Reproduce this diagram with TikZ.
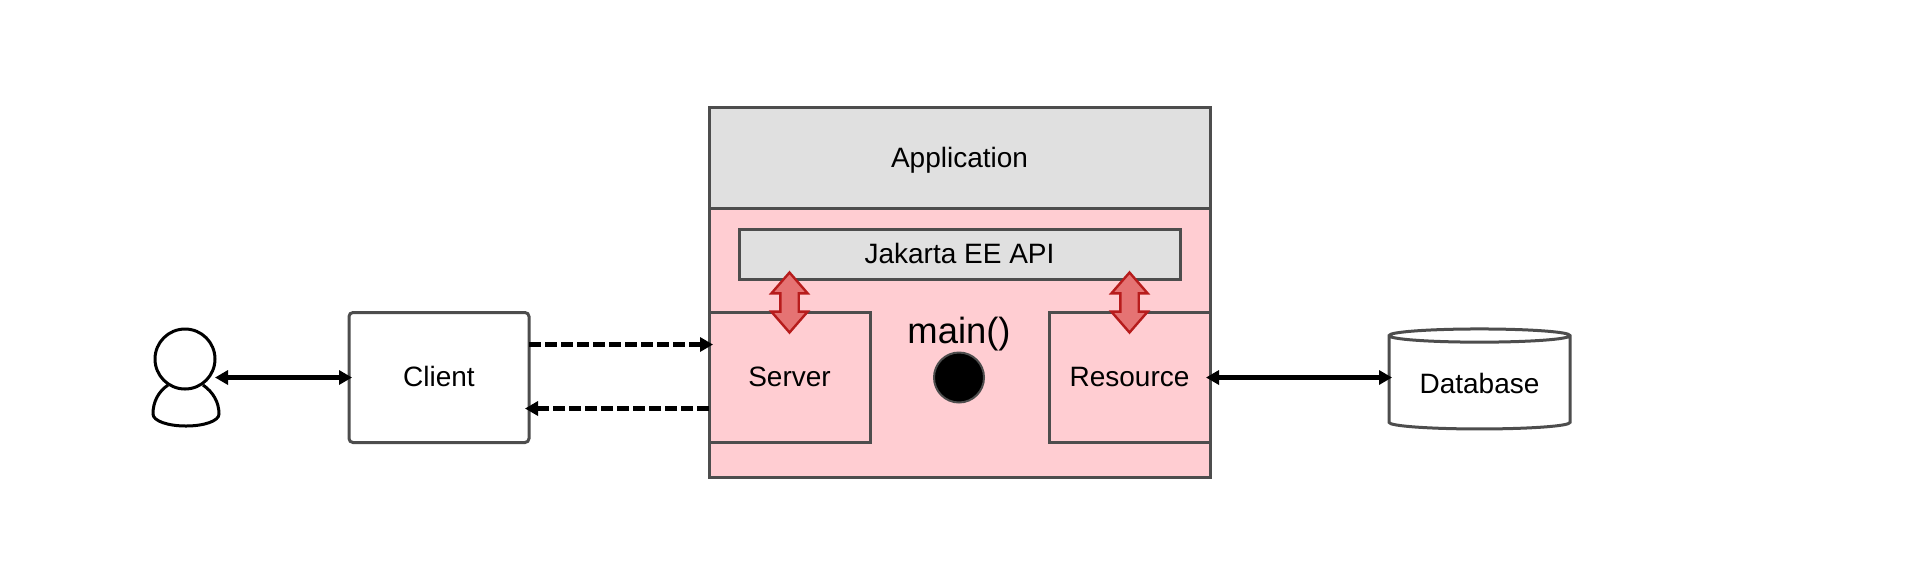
\documentclass[tikz,border=0pt]{standalone}
\usepackage{fontspec}
\setmainfont{Liberation Sans}
\usetikzlibrary{positioning,shapes.arrows,shapes.geometric,arrows.meta}
\definecolor{boxline}{HTML}{4D4D4D}
\definecolor{boxgrey}{HTML}{E0E0E0}
\definecolor{boxpink}{HTML}{FFCDD2}
\definecolor{redfill}{HTML}{E57373}
\definecolor{redline}{HTML}{B71C1C}
\tikzset{
  box/.style={draw=boxline, line width=1.5pt, outer sep=0pt, inner sep=0pt, text height=12.2pt, text depth=2.9pt, font=\fontsize{14pt}{16pt}\selectfont},
  greybox/.style={box, fill=boxgrey},
  pinkbox/.style={box, fill=boxpink, minimum width=80.5pt, minimum height=65pt},
  apiarrow/.style={double arrow, draw=redline, fill=redfill, line width=1.2pt, inner xsep=0pt, inner ysep=4pt, outer sep=0pt,
    minimum height=30pt, double arrow head extend=4.5pt, double arrow tip angle=82, rotate=90},
  link/.style={{Triangle[length=6.5pt,width=7pt]}-{Triangle[length=6.5pt,width=7pt]}, line width=2.1pt, shorten >=-1.5pt},
  call/.style={-{Triangle[length=6.5pt,width=7pt]}, line width=2.1pt, dash pattern=on 6pt off 2pt, shorten >=-2pt},
}

\begin{document}
\begin{tikzpicture}[x=0.5pt, y=-0.5pt]
  \useasboundingbox (0,0) rectangle (1920,585);

  \node [greybox, minimum width=250.5pt, minimum height=50.5pt] (application) at (959.5,158) {Application};
  \node [box, fill=boxpink, below=0pt of application, minimum width=250.5pt, minimum height=134.5pt] (runtime) {};
  \node [greybox, below=10.5pt of application, minimum width=220.5pt, minimum height=25pt] (jakarta) {Jakarta EE API};

  \node [pinkbox, anchor=south west] (server) at ([yshift=17.5pt]runtime.south west) {Server};
  \node [pinkbox, anchor=south east] (resource) at ([yshift=17.5pt]runtime.south east) {Resource};

  \node [apiarrow] (serverapi) at ([yshift=5pt]server.north) {};
  \node [apiarrow] (resourceapi) at ([yshift=5pt]resource.north) {};

  \node [circle, draw=boxline, fill=black, line width=1pt, minimum size=25pt, inner sep=0pt, outer sep=0pt] (thread) at (959,377.5) {};
  \node [above=-3pt of thread, font=\fontsize{18.2pt}{20pt}\selectfont] (mainlabel) {main()};

  \node [box, fill=white, rounded corners=2pt, left=90pt of server, minimum width=90pt, minimum height=65pt] (client) {Client};
  \node [box, fill=white, cylinder, shape border rotate=90, shape aspect=0.11, text height=13pt, right=89.5pt of resource, yshift=-2.75pt, minimum width=90.5pt, minimum height=50pt] (database) {Database};

  \draw [black, line width=1.5pt, fill=white] (168,385) .. controls (158,392) and (153,402) .. (153,414)
    .. controls (153,421) and (168,426) .. (186,426) .. controls (204,426) and (219,421) .. (219,414)
    .. controls (219,402) and (213,392) .. (203,385);
  \node [circle, draw=black, fill=white, line width=1.5pt, minimum size=30pt, inner sep=0pt, outer sep=0pt] (user) at (185,359) {};

  \draw [link] (user.east |- client.west) -- (client.west);
  \draw [link, shorten <=-2pt] (resource.east) -- (resource.east -| database.west);
  \draw [call] ([yshift=16.5pt]client.east) -- ([yshift=16.5pt]server.west);
  \draw [call] ([yshift=-15.5pt]server.west) -- ([yshift=-15.5pt]client.east);
\end{tikzpicture}
\end{document}
